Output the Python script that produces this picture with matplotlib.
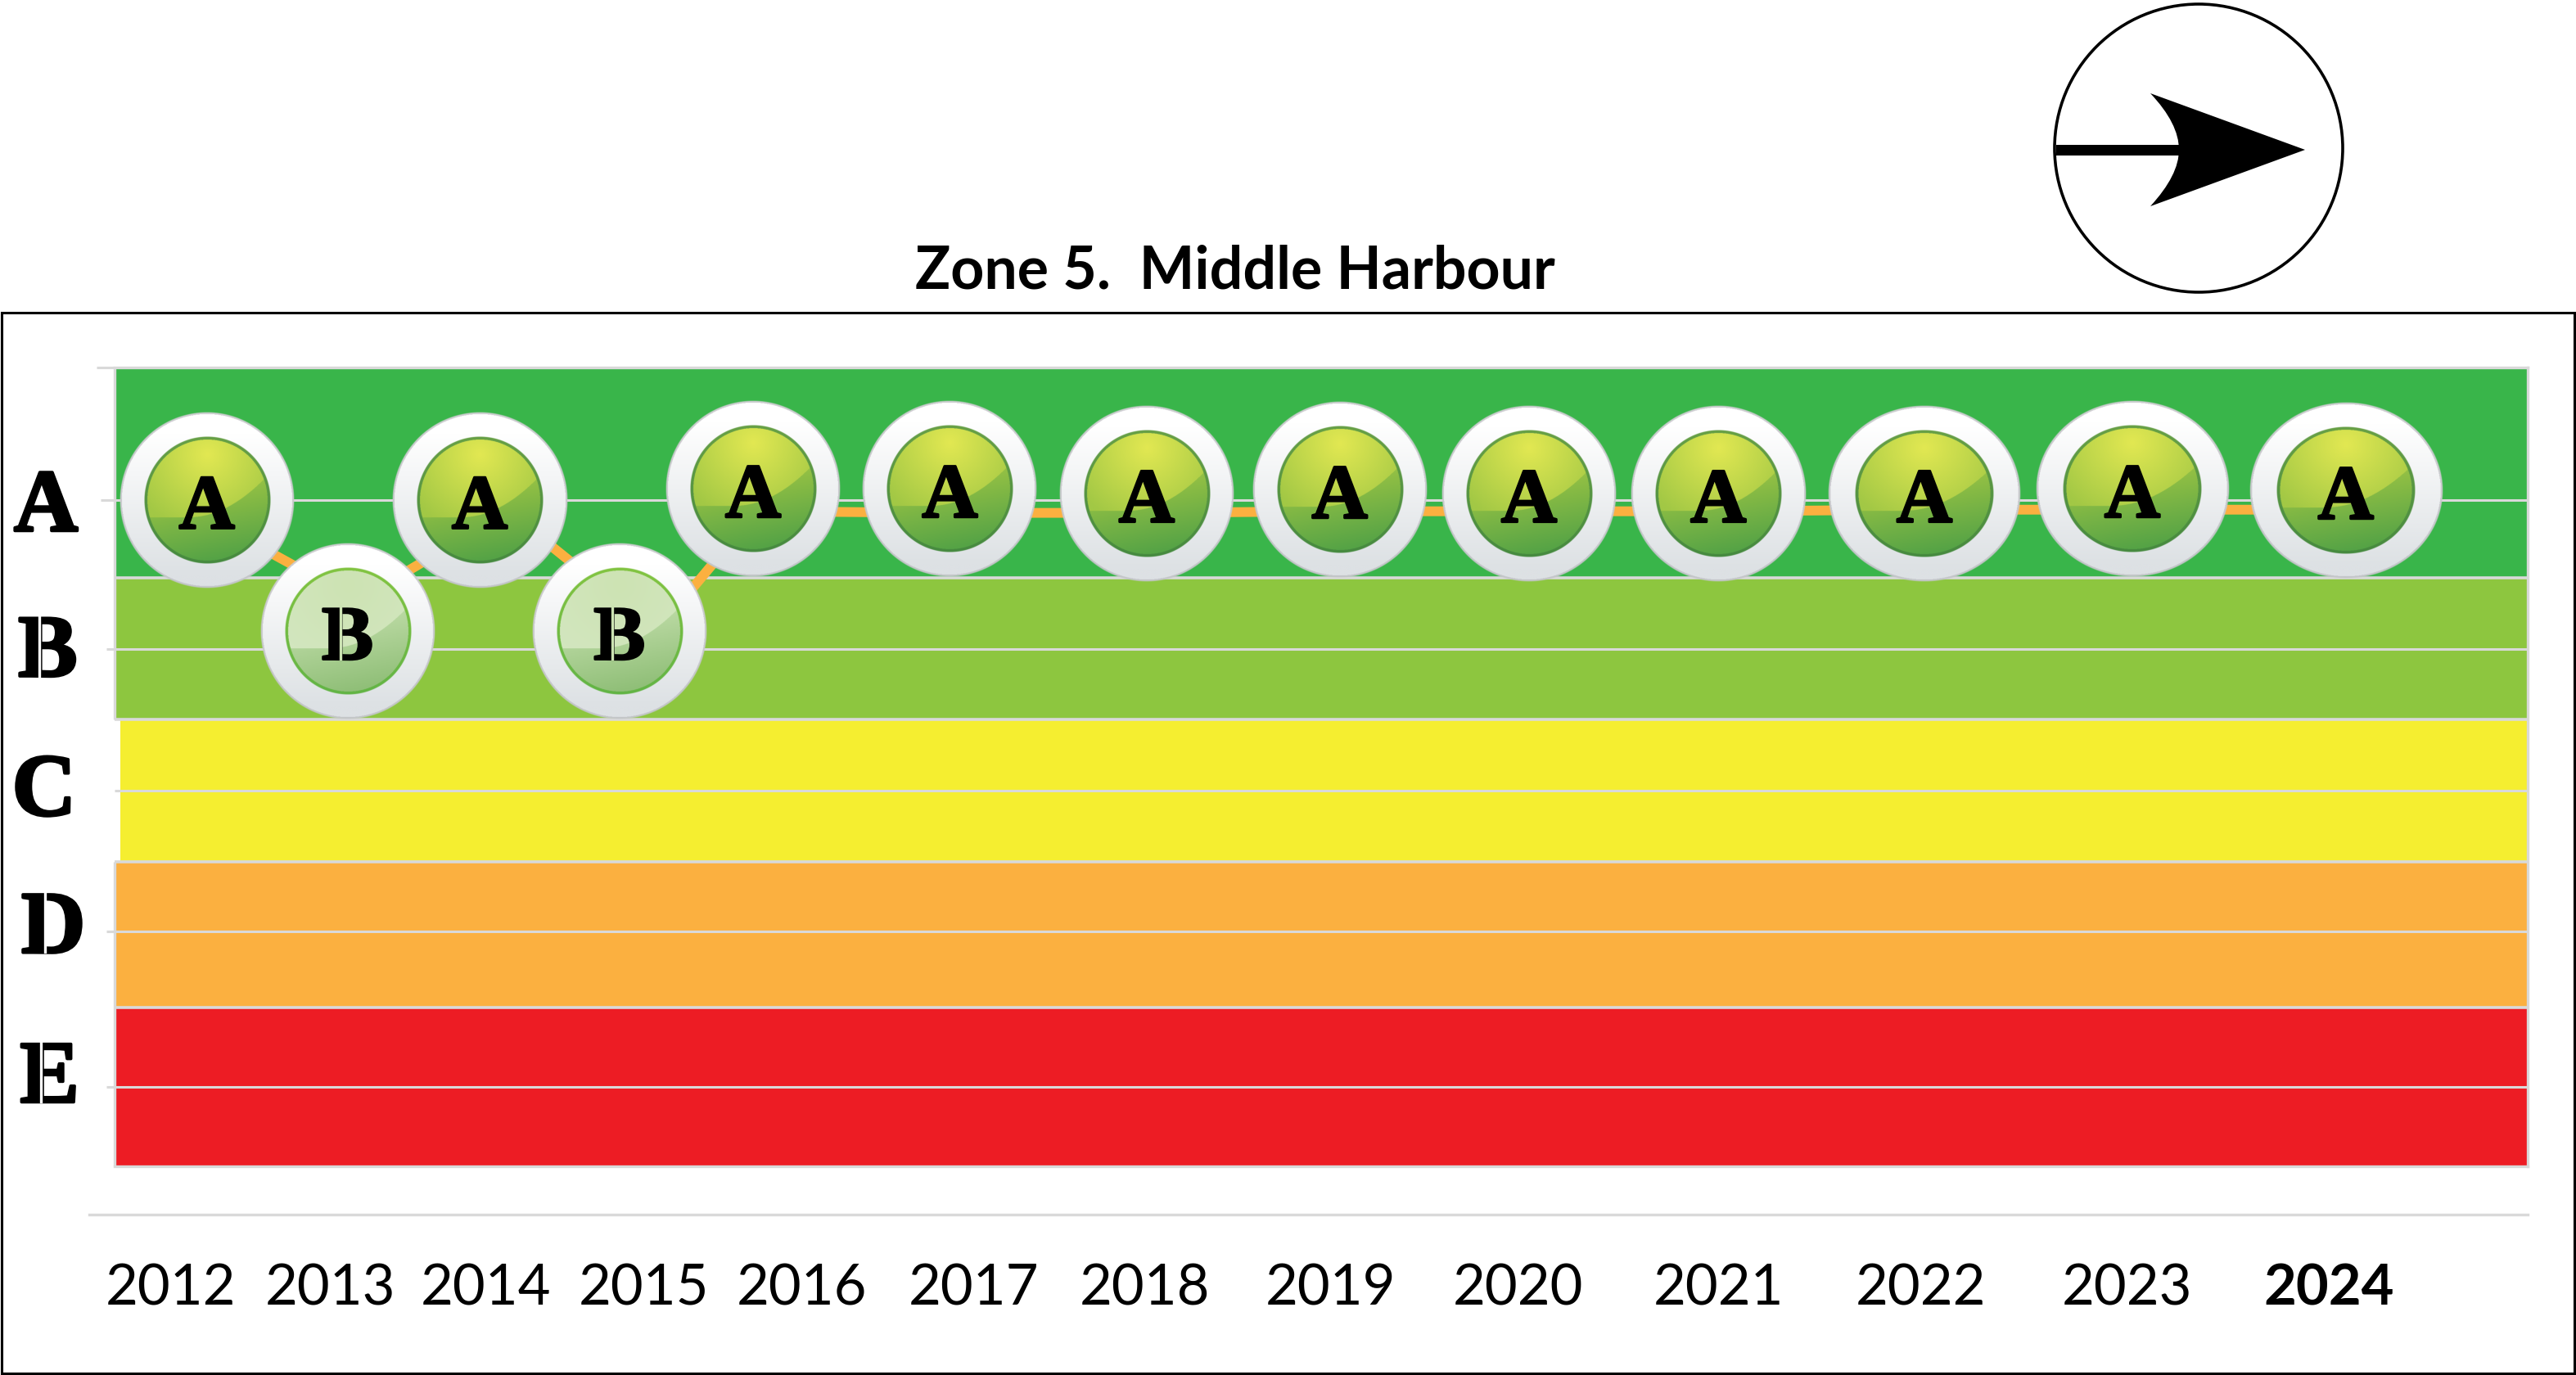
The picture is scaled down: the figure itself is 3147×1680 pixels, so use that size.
import numpy as np
import matplotlib
matplotlib.use("Agg")
import matplotlib.pyplot as plt
import matplotlib.patheffects as pe
from matplotlib.path import Path
from matplotlib.patches import Circle, PathPatch, Rectangle
from matplotlib.colors import to_rgb

W, H = 3147, 1681
PX_X = 13 / 2948   # axis units per pixel
PX_Y = 5 / 976

plt.rcParams['font.family'] = ['Lato', 'DejaVu Sans']

title = "Zone 5.  Middle Harbour"
years = [2012, 2013, 2014, 2015, 2016, 2017, 2018, 2019, 2020, 2021, 2022, 2023, 2024]
year_ticks = [0.30, 1.16, 2.00, 2.85, 3.70, 4.63, 5.55, 6.55, 7.56, 8.64, 9.73, 10.84, 11.93]

# report card grades and the dots that carry them
grades = ["A", "B", "A", "B", "A", "A", "A", "A", "A", "A", "A", "A", "A"]
dot_x = [0.497, 1.255, 1.967, 2.72, 3.44, 4.50, 5.56, 6.60, 7.62, 8.64, 9.75, 10.87, 12.02]
dot_y = [4.17, 3.35, 4.17, 3.35, 4.24, 4.24, 4.21, 4.235, 4.21, 4.21, 4.21, 4.24, 4.23]
dot_w = [107, 107, 107, 107, 107, 107, 107, 107, 107, 107, 118, 118, 118]

# orange trend line
trend_x = [0.497, 1.31, 2.12, 2.92, 3.46, 4.50, 5.56, 6.60, 7.62, 8.64, 9.75, 10.87, 12.02]
trend_y = [4.06, 3.54, 4.10, 3.35, 4.10, 4.09, 4.09, 4.10, 4.10, 4.10, 4.11, 4.11, 4.11]

# colour bands, bottom to top
band_edges = [0, 0.994, 1.906, 2.797, 3.683, 5]
band_colors = ["#ed1c24", "#fbb040", "#f5ee30", "#8dc63f", "#39b54a"]
band_left = [0, 0, 0.03, 0, 0]

grid_y = [0.497, 1.47, 2.35, 3.24, 4.17, 5]
grid_tick_len = [7, 7, 0, 7, 12, 16]

letters = ["A", "B", "C", "D", "E"]
letter_x = [-0.37, -0.36, -0.38, -0.33, -0.35]
letter_y = [4.17, 3.26, 2.39, 1.53, 0.594]

GRID = "#d9d9d9"
ORANGE = "#fbb040"


def lerp(a, b, t):
    a, b = np.array(to_rgb(a)), np.array(to_rgb(b))
    return a + (b - a) * np.clip(t, 0, 1)[..., None]


def grid_uv(n=420):
    u, v = np.meshgrid(np.linspace(-1, 1, n), np.linspace(1, -1, n))
    return u, v, np.hypot(u, v)


def ring_image():
    u, v, r = grid_uv()
    rgb = lerp("#ffffff", "#dde1e4", (0.75 - v) / 1.6)
    edge = lerp("#cfcfd2", "#c4c6c9", (1 - v) / 2)
    rgb = np.where((r > 0.975)[..., None], edge, rgb)
    alpha = np.clip((1 - r) * 110, 0, 1)
    return np.dstack([rgb, alpha])


def lens_image(grade):
    u, v, r = grid_uv()
    if grade == "A":
        glow = ("#e2e852", "#a2c845")
        low = ("#a0c644", "#55a346")
        rim = ("#67a046", "#468a3f")
    else:
        glow = ("#cde3b3", "#d2e6be")
        low = ("#c2deaa", "#90bf78")
        rim = ("#82c441", "#62b445")
    arc = -0.27 + 0.42 * np.clip(u + 0.3, 0, None) ** 2
    top = lerp(glow[0], glow[1], np.hypot(u, v - 0.72) / 1.25)
    bottom = lerp(low[0], low[1], (0.35 - v + 0.2 * u) / 1.3)
    rgb = np.where((v > arc)[..., None], top, bottom)
    rgb = np.where((r > 0.95)[..., None], lerp(rim[0], rim[1], (1 - v) / 2), rgb)
    alpha = np.clip((1 - r) * 110, 0, 1)
    return np.dstack([rgb, alpha])


def draw_grade_text(ax, x, y, s, size, stroke, z, gap=None):
    # heavy slab letter with the vertical stencil bridge cut through it
    ax.text(x, y, s, family="Liberation Serif", weight="bold", fontsize=size,
            ha="center", va="center_baseline", color="black", zorder=z, clip_on=False,
            path_effects=[pe.withStroke(linewidth=stroke, foreground="black")])
    if gap is not None and s in "BDE":
        half = 0.34 * size * 1.39 * PX_Y
        ax.plot([x - 0.045 * size / 78, x - 0.045 * size / 78], [y - half, y + half],
                color=gap, lw=2.4, zorder=z + 0.1, clip_on=False)


def draw_dot(ax, x, y, grade, half_w, z):
    half_h = 108
    for img, scale in ((ring_image(), 1.0), (lens_image(grade), 0.72)):
        dx, dy = half_w * scale * PX_X, half_h * scale * PX_Y
        ax.imshow(img, extent=(x - dx, x + dx, y - dy, y + dy), aspect="auto",
                  zorder=z, interpolation="antialiased")
    draw_grade_text(ax, x, y - 2 * PX_Y, grade, 68, 2, z + 0.5, gap="#cbe2b2")


fig = plt.figure(figsize=(W / 100, H / 100), dpi=100, facecolor="white")
ax = fig.add_axes([140 / W, (H - 1426) / H, 2948 / W, 976 / H])
ax.set_xlim(0, 13)
ax.set_ylim(0, 5)

for i, col in enumerate(band_colors):
    ax.barh(band_edges[i], 13 - band_left[i], height=band_edges[i + 1] - band_edges[i],
            left=band_left[i], align="edge", color=col, zorder=1)

ax.hlines(grid_y[:-1], 0, 13, color=GRID, lw=2.2, zorder=2)
ax.hlines(band_edges[1:-1], 0, 13, color=GRID, lw=2.6, zorder=2)

ax.plot(trend_x, trend_y, color=ORANGE, lw=8.6, zorder=3, solid_joinstyle="round")

for i in range(len(years)):
    draw_dot(ax, dot_x[i], dot_y[i], grades[i], dot_w[i], 4 + i)

ax.set_xlim(0, 13)
ax.set_ylim(0, 5)

# frame of the plot area, left edge broken beside the yellow band
for side in ("top", "right"):
    ax.spines[side].set_color(GRID)
    ax.spines[side].set_linewidth(2.4)
ax.spines["left"].set_visible(False)
ax.vlines([0, 0], [0, band_edges[3]], [band_edges[2], 5], color=GRID, lw=2.4, zorder=2, clip_on=False)
ax.spines["bottom"].set_position(("outward", 42.5))
ax.spines["bottom"].set_bounds(-0.137, 13)
ax.spines["bottom"].set_color(GRID)
ax.spines["bottom"].set_linewidth(2.4)
ax.plot([0, 13], [0, 0], color=GRID, lw=2.4, zorder=2, clip_on=False)

ax.set_xticks(year_ticks)
ax.set_xticklabels(years, fontsize=49.5)
ax.tick_params(axis="x", length=0, pad=42)
ax.get_xticklabels()[-1].set_fontweight("bold")

ax.set_yticks(grid_y)
ax.set_yticklabels([])
for tick, length in zip(ax.yaxis.get_major_ticks(), grid_tick_len):
    tick.tick1line.set_markersize(length)
    tick.tick1line.set_markeredgecolor(GRID)
    tick.tick1line.set_markeredgewidth(2.2)

for s, lx, ly in zip(letters, letter_x, letter_y):
    draw_grade_text(ax, lx, ly, s, 78, 2.5, 5, gap="white")

ax.set_title(title, x=0.4644, pad=70, fontsize=51.6, fontweight="bold")

# outer border and north arrow live on a pixel overlay
over = fig.add_axes([0, 0, 1, 1], zorder=20)
over.set_xlim(0, W)
over.set_ylim(H, 0)
over.axis("off")
over.add_patch(Rectangle((2, 383), 3143, 1296, fill=False, ec="black", lw=2.2))
over.add_patch(Circle((2686, 182), 176, fill=False, ec="black", lw=2.6))
head = Path(
    [(2627, 115), (2816, 184), (2627, 253), (2662, 215), (2662, 184), (2662, 152), (2627, 115)],
    [Path.MOVETO, Path.LINETO, Path.LINETO, Path.CURVE3, Path.CURVE3, Path.CURVE3, Path.CURVE3],
)
over.add_patch(PathPatch(head, fc="black", ec="none"))
over.add_patch(Rectangle((2512, 178), 155, 13, fc="black", ec="none"))

fig.savefig("out.png", dpi=100)
